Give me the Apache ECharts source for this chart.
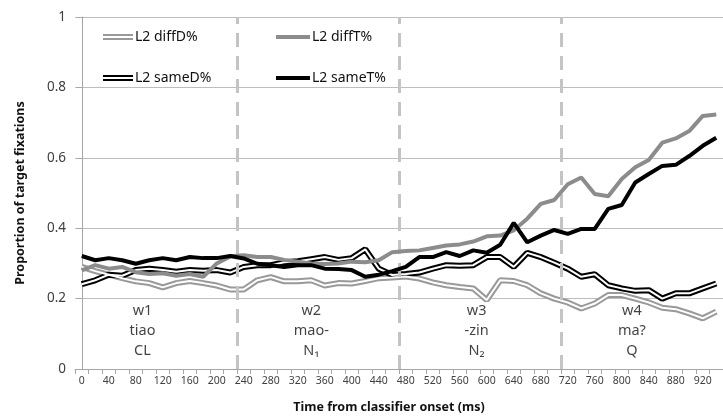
<!DOCTYPE html>
<html>
<head>
<meta charset="utf-8">
<script src="https://cdn.jsdelivr.net/npm/echarts@6/dist/echarts.min.js"></script>
<style>
  html, body { margin: 0; padding: 0; background: #fff; }
  #chart { width: 723px; height: 419px; }
</style>
</head>
<body>
<div id="chart"></div>
<script>
// time bins (ms) - the picture is cut off just after 920
const times = [0, 20, 40, 60, 80, 100, 120, 140, 160, 180, 200, 220, 240, 260, 280, 300,
  320, 340, 360, 380, 400, 420, 440, 460, 480, 500, 520, 540, 560, 580, 600, 620,
  640, 660, 680, 700, 720, 740, 760, 780, 800, 820, 840, 860, 880, 900, 920, 940];

const diffD = [0.290, 0.278, 0.268, 0.258, 0.249, 0.244, 0.232, 0.244, 0.250, 0.244, 0.237, 0.226,
  0.226, 0.252, 0.261, 0.249, 0.249, 0.252, 0.237, 0.244, 0.243, 0.250, 0.258, 0.260,
  0.263, 0.257, 0.246, 0.238, 0.233, 0.229, 0.196, 0.252, 0.250, 0.238, 0.215, 0.200,
  0.189, 0.172, 0.186, 0.210, 0.210, 0.200, 0.189, 0.174, 0.170, 0.158, 0.144, 0.163];

const diffT = [0.280, 0.295, 0.285, 0.290, 0.275, 0.270, 0.272, 0.265, 0.270, 0.262, 0.300, 0.320,
  0.323, 0.318, 0.318, 0.310, 0.305, 0.300, 0.298, 0.300, 0.305, 0.303, 0.309, 0.332,
  0.335, 0.337, 0.344, 0.351, 0.354, 0.362, 0.377, 0.379, 0.394, 0.427, 0.469, 0.480,
  0.525, 0.544, 0.497, 0.491, 0.540, 0.573, 0.594, 0.643, 0.655, 0.676, 0.719, 0.723];

const sameD = [0.241, 0.252, 0.268, 0.265, 0.281, 0.285, 0.281, 0.276, 0.281, 0.279, 0.281, 0.274,
  0.290, 0.295, 0.295, 0.303, 0.306, 0.312, 0.318, 0.310, 0.315, 0.340, 0.285, 0.267,
  0.270, 0.274, 0.285, 0.295, 0.293, 0.295, 0.318, 0.318, 0.290, 0.330, 0.318, 0.302,
  0.285, 0.262, 0.269, 0.238, 0.229, 0.222, 0.224, 0.200, 0.215, 0.215, 0.229, 0.243];

const sameT = [0.321, 0.309, 0.315, 0.309, 0.299, 0.309, 0.315, 0.309, 0.318, 0.315, 0.315, 0.321,
  0.314, 0.299, 0.295, 0.290, 0.295, 0.295, 0.285, 0.284, 0.281, 0.262, 0.268, 0.278,
  0.290, 0.318, 0.318, 0.332, 0.321, 0.337, 0.330, 0.353, 0.415, 0.360, 0.379, 0.395,
  0.384, 0.398, 0.398, 0.455, 0.466, 0.530, 0.554, 0.577, 0.580, 0.605, 0.634, 0.657];

// word boundaries (ms) and the word labels under the lines
const boundaries = [230, 470, 710];
const segCenters = [90, 340, 585, 815];
const segWords = ['w1', 'w2', 'w3', 'w4'];
const segPinyin = ['tiao', 'mao-', '-zin', 'ma?'];
const segGloss = ['CL', 'N\u2081', 'N\u2082', 'Q'];

const yTicks = [0, 0.2, 0.4, 0.6, 0.8, 1];

const FONT = 'Noto Sans';
const grayThick = '#8c8c8c';
const grayDouble = '#999999';

const chart = echarts.init(document.getElementById('chart'));

const doubleIcon = 'path://M0,0H30V2H0Z M0,4H30V6H0Z';

function legendAt(name, left, top, icon, w, h) {
  return {
    data: [name],
    left: left,
    top: top,
    icon: icon,
    itemWidth: w,
    itemHeight: h,
    itemGap: 0,
    selectedMode: false,
    textStyle: { fontFamily: FONT, fontSize: 14, color: '#111', padding: [0, 0, 0, -3] }
  };
}

function doubleLine(name, data, color) {
  return [
    {
      name: name, type: 'line', data: data, symbol: 'none', z: 3,
      itemStyle: { color: color },
      lineStyle: { color: color, width: 6 }
    },
    {
      name: name + ' inner', type: 'line', data: data, symbol: 'none', z: 4,
      itemStyle: { color: '#fff' },
      lineStyle: { color: '#fff', width: 2 }
    }
  ];
}

const option = {
  backgroundColor: '#fff',
  animation: false,
  grid: { left: 75, right: -8, top: 17, bottom: 48 },
  legend: [
    legendAt('L2 diffD%', 98, 25, doubleIcon, 30, 6),
    legendAt('L2 diffT%', 271, 25, 'rect', 34, 4),
    legendAt('L2 sameD%', 98, 66, doubleIcon, 30, 6),
    legendAt('L2 sameT%', 271, 66, 'rect', 34, 4)
  ],
  xAxis: [
    {
      type: 'category',
      data: times,
      boundaryGap: true,
      name: 'Time from classifier onset (ms)',
      nameLocation: 'middle',
      nameGap: 32,
      nameTextStyle: { fontFamily: FONT, fontSize: 12.5, fontWeight: 'bold', color: '#111', padding: [0, 20, 0, 0] },
      axisLine: { lineStyle: { color: '#a6a6a6', width: 1 } },
      axisTick: { show: true, interval: 0, alignWithLabel: false, length: 5, lineStyle: { color: '#a6a6a6' } },
      axisLabel: { interval: 1, fontFamily: FONT, fontSize: 10.5, color: '#404040', margin: 7 },
      splitLine: { show: false }
    },
    {
      type: 'value',
      min: -10,
      max: 950,
      show: false
    }
  ],
  yAxis: {
    type: 'value',
    min: 0,
    max: 1,
    interval: 0.2,
    name: 'Proportion of target fixations',
    nameLocation: 'middle',
    nameGap: 48,
    nameTextStyle: { fontFamily: FONT, fontSize: 12.5, fontWeight: 'bold', color: '#111' },
    axisLine: { show: true, lineStyle: { color: '#a6a6a6', width: 1 } },
    axisTick: { show: true, length: 5, lineStyle: { color: '#a6a6a6' } },
    axisLabel: {
      fontFamily: FONT, fontSize: 13.5, color: '#404040', margin: 9,
      formatter: v => String(yTicks.find(t => Math.abs(t - v) < 1e-6) ?? v)
    },
    splitLine: { lineStyle: { color: '#bdbdbd', width: 1 } }
  },
  series: [
    {
      name: 'words',
      type: 'scatter',
      xAxisIndex: 1,
      symbolSize: 0,
      z: 1,
      silent: true,
      data: segCenters.map((c, i) => [c, 0.107]),
      label: {
        show: true,
        position: 'inside',
        fontFamily: FONT,
        fontSize: 14.5,
        lineHeight: 20,
        color: '#111',
        formatter: p => segWords[p.dataIndex] + '\n' + segPinyin[p.dataIndex] + '\n' + segGloss[p.dataIndex]
      },
      markLine: {
        silent: true,
        symbol: 'none',
        label: { show: false },
        lineStyle: { color: '#c4c4c4', width: 3, type: [14, 9] },
        data: boundaries.map(b => ({ xAxis: b }))
      }
    },
    ...doubleLine('L2 diffD%', diffD, grayDouble),
    {
      name: 'L2 diffT%', type: 'line', data: diffT, symbol: 'none', z: 5,
      itemStyle: { color: grayThick },
      lineStyle: { color: grayThick, width: 4 }
    },
    ...doubleLine('L2 sameD%', sameD, '#000'),
    {
      name: 'L2 sameT%', type: 'line', data: sameT, symbol: 'none', z: 6,
      itemStyle: { color: '#000' },
      lineStyle: { color: '#000', width: 4 }
    }
  ]
};

chart.setOption(option);
</script>
</body>
</html>
